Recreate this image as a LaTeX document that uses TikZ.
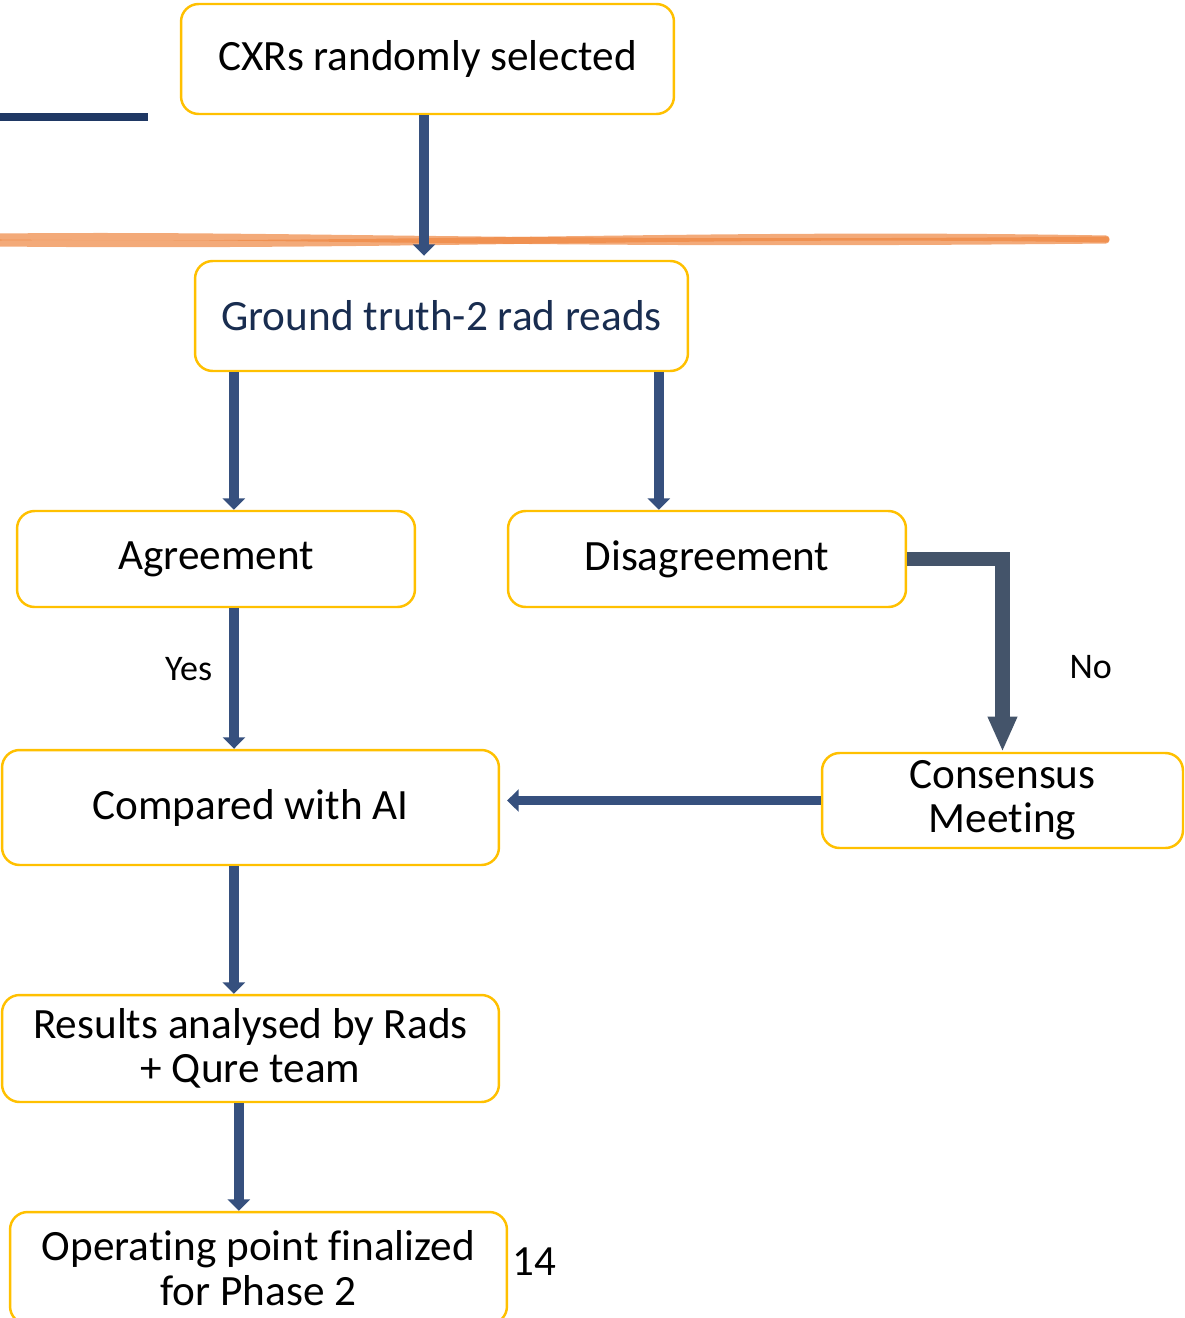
\documentclass[tikz,border=0pt]{standalone}
\usepackage{fontspec}
\setmainfont[Ligatures=NoCommon]{Carlito}
\usetikzlibrary{arrows.meta,calc}

\definecolor{boxline}{HTML}{FFC000}
\definecolor{arrowblue}{HTML}{36507E}
\definecolor{slate}{HTML}{44546A}
\definecolor{navy}{HTML}{1F3864}
\definecolor{marker}{HTML}{EE8640}

\tikzset{
  box/.style={draw=boxline, line width=1.4pt, rounded corners=10pt, fill=white,
    align=center, inner sep=0pt, font=\fontsize{24.6}{25.2}\selectfont},
  arr/.style={draw=arrowblue, line width=5.5pt, -{Triangle[length=6.5pt,width=12.5pt]}},
  bigarr/.style={draw=slate, line width=8pt, -{Triangle[length=20pt,width=15.5pt]}},
  lbl/.style={font=\fontsize{20.5}{22}\selectfont, inner sep=0pt},
}

\begin{document}
\begin{tikzpicture}[x=0.02cm, y=-0.02cm]
    \useasboundingbox (0,0) rectangle (1185,1318);

    % decorations
    \draw [navy, line width=4pt] (0,117) -- (148,117);
    \draw [marker, line width=4pt, opacity=0.7, line cap=round]
        (0,237) .. controls (300,234) and (520,246) .. (1106,240);
    \draw [marker, line width=4pt, opacity=0.7, line cap=round]
        (0,243) .. controls (420,247) and (700,232) .. (1106,239);

    % boxes
    \node [box, minimum width=9.86cm, minimum height=2.2cm] (cxr) at (427.5,59) {CXRs randomly selected};
    \node [box, minimum width=9.86cm, minimum height=2.2cm, text=navy!80!black] (ground) at (441.5,316) {Ground truth-2 rad reads};

    \node [box, minimum width=7.96cm, minimum height=1.92cm] (agree) at (216,559) {Agreement};
    \node [box, minimum width=7.96cm, minimum height=1.92cm] (disagree) at (707,559) {Disagreement};

    \node [box, minimum width=9.94cm, minimum height=2.3cm] (compared) at (250.5,807.5) {Compared with AI};
    \node [box, minimum width=7.22cm, minimum height=1.9cm] (consensus) at (1002.5,800.5) {Consensus\\Meeting};

    \node [box, minimum width=9.94cm, minimum height=2.14cm] (results) at (250.5,1048.5) {Results analysed by Rads\\+ Qure team};
    \node [box, minimum width=9.94cm, minimum height=2.24cm] (operating) at (258.5,1268) {Operating point finalized\\for Phase 2};

    \node [inner sep=0pt, font=\fontsize{24.5}{26}\selectfont] (slideno) at (534,1262) {14};

    % connectors
    \coordinate (gl) at ($(ground.south west)+(40,0)$);
    \coordinate (gr) at ($(ground.south west)+(465,0)$);
    \coordinate (al) at ($(agree.south)+(18,0)$);
    \coordinate (cl) at ($(compared.south west)+(233,0)$);
    \coordinate (rl) at ($(results.south west)+(238,0)$);

    \draw [arr] ($(cxr.south)+(-3.5,0)$) -- ($(cxr.south |- ground.north)+(-3.5,-4)$);
    \draw [arr] (gl) -- (gl |- agree.north);
    \draw [arr] (gr) -- (gr |- disagree.north);
    \draw [arr] (al) -- node [lbl, pos=0.43, left=0.34cm] {Yes} (al |- compared.north);
    \draw [bigarr] (disagree.east) -| node [lbl, pos=0.78, right=1.2cm] {No} (consensus.north);
    \draw [arr, shorten >=0.14cm] (consensus.west) -- (consensus.west -| compared.east);
    \draw [arr] (cl) -- (cl |- results.north);
    \draw [arr] (rl) -- (rl |- operating.north);
\end{tikzpicture}
\end{document}
